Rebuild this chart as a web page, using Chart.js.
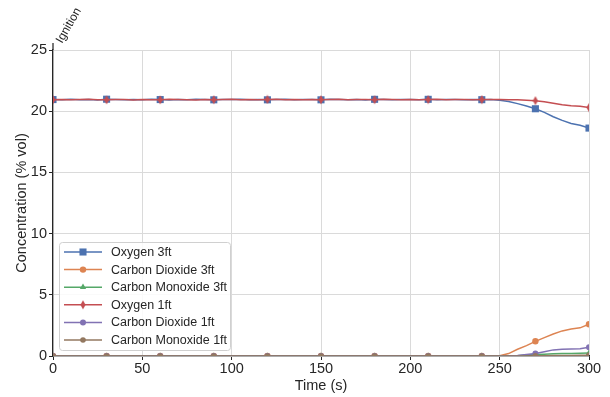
<!DOCTYPE html>
<html lang="en">
<head>
<meta charset="UTF-8">
<title>Gas concentration after ignition</title>
<script src="https://cdn.jsdelivr.net/npm/chart.js"></script>
<style>
    html, body { margin: 0; padding: 0; background: #fff; }
    #wrap { width: 610px; height: 397px; }
</style>
</head>
<body>
<div id="wrap"><canvas id="gasChart" width="610" height="397"></canvas></div>
<script>
// sample times (s), one reading every 5 s
var times = [0,5,10,15,20,25,30,35,40,45,50,55,60,65,70,75,80,85,90,95,
             100,105,110,115,120,125,130,135,140,145,150,155,160,165,170,175,180,185,190,195,
             200,205,210,215,220,225,230,235,240,245,250,255,260,265,270,275,280,285,290,295,300];

var oxygen3ft = [20.95,20.93,20.97,20.94,20.96,20.92,20.98,20.95,20.93,20.96,
                 20.94,20.97,20.95,20.92,20.96,20.94,20.98,20.95,20.93,20.96,
                 20.95,20.97,20.94,20.96,20.93,20.95,20.98,20.94,20.96,20.95,
                 20.93,20.97,20.95,20.94,20.96,20.92,20.97,20.95,20.94,20.96,
                 20.95,20.93,20.97,20.94,20.96,20.95,20.93,20.96,20.94,20.95,
                 20.9,20.8,20.62,20.42,20.2,19.9,19.55,19.25,19.0,18.85,18.62];
var co2_3ft = [0,0,0,0,0,0,0,0,0,0, 0,0,0,0,0,0,0,0,0,0, 0,0,0,0,0,0,0,0,0,0,
               0,0,0,0,0,0,0,0,0,0, 0,0,0,0,0,0,0,0,0,0,
               0.02,0.2,0.55,0.85,1.2,1.5,1.8,2.05,2.2,2.3,2.6];
var co_3ft = [0,0,0,0,0,0,0,0,0,0, 0,0,0,0,0,0,0,0,0,0, 0,0,0,0,0,0,0,0,0,0,
              0,0,0,0,0,0,0,0,0,0, 0,0,0,0,0,0,0,0,0,0,
              0,0,0.03,0.08,0.12,0.15,0.18,0.2,0.2,0.22,0.25];
var oxygen1ft = [20.94,20.96,20.93,20.95,20.97,20.94,20.93,20.96,20.95,20.92,
                 20.96,20.94,20.93,20.97,20.95,20.94,20.92,20.96,20.94,20.95,
                 20.97,20.93,20.95,20.94,20.96,20.97,20.94,20.95,20.93,20.96,
                 20.94,20.95,20.97,20.93,20.95,20.96,20.94,20.97,20.95,20.93,
                 20.96,20.94,20.95,20.97,20.93,20.95,20.96,20.94,20.95,20.96,
                 20.95,20.94,20.93,20.9,20.86,20.78,20.65,20.52,20.45,20.4,20.3];
var co2_1ft = [0,0,0,0,0,0,0,0,0,0, 0,0,0,0,0,0,0,0,0,0, 0,0,0,0,0,0,0,0,0,0,
               0,0,0,0,0,0,0,0,0,0, 0,0,0,0,0,0,0,0,0,0,
               0,0,0.05,0.12,0.2,0.35,0.5,0.55,0.57,0.6,0.72];
var co_1ft = [0,0,0,0,0,0,0,0,0,0, 0,0,0,0,0,0,0,0,0,0, 0,0,0,0,0,0,0,0,0,0,
              0,0,0,0,0,0,0,0,0,0, 0,0,0,0,0,0,0,0,0,0,
              0,0,0,0,0.02,0.03,0.04,0.05,0.05,0.06,0.07];

var seriesNames = ['Oxygen 3ft', 'Carbon Dioxide 3ft', 'Carbon Monoxide 3ft',
                   'Oxygen 1ft', 'Carbon Dioxide 1ft', 'Carbon Monoxide 1ft'];
var seriesValues = [oxygen3ft, co2_3ft, co_3ft, oxygen1ft, co2_1ft, co_1ft];
var seriesColors = ['#4C72B0', '#DD8452', '#55A868', '#C44E52', '#8172B3', '#937860'];

var xTicks = [0, 50, 100, 150, 200, 250, 300];
var yTicks = [0, 5, 10, 15, 20, 25];

var FONT = "'Liberation Sans', Arial, sans-serif";

// thin diamond marker like matplotlib 'd'
function thinDiamond(color) {
    var c = document.createElement('canvas');
    c.width = 6; c.height = 10;
    var g = c.getContext('2d');
    g.fillStyle = color;
    g.beginPath();
    g.moveTo(3, 0.5); g.lineTo(5.6, 5); g.lineTo(3, 9.5); g.lineTo(0.4, 5);
    g.closePath();
    g.fill();
    return c;
}

var markerStyles = ['rect', 'circle', 'triangle', thinDiamond('#C44E52'), 'circle', 'circle'];
var markerSizes = [5, 3.2, 3.6, 5, 3, 2.8];

var datasets = seriesNames.map(function (name, i) {
    return {
        label: name,
        data: times.map(function (t, j) { return { x: t, y: seriesValues[i][j] }; }),
        borderColor: seriesColors[i],
        backgroundColor: seriesColors[i],
        borderWidth: 1.5,
        pointStyle: markerStyles[i],
        pointBorderWidth: 0,
        pointRadius: function (ctx) { return times[ctx.dataIndex] % 30 === 0 ? markerSizes[i] : 0; },
        pointHoverRadius: 0,
        tension: 0,
        order: 6 - i
    };
});

// legend with line + marker, and the "Ignition" note
var extras = {
    id: 'extras',
    afterDraw: function (chart) {
        var ctx = chart.ctx;
        var area = chart.chartArea;
        ctx.save();

        // short ignition line above the axes
        ctx.strokeStyle = '#262626';
        ctx.lineWidth = 1.25;
        ctx.beginPath();
        ctx.moveTo(area.left, area.top - 7);
        ctx.lineTo(area.left, area.top);
        ctx.stroke();

        ctx.fillStyle = '#262626';
        ctx.font = '12px ' + FONT;
        ctx.translate(area.left + 9, area.top - 6);
        ctx.rotate(-Math.PI / 3);
        ctx.textAlign = 'left';
        ctx.textBaseline = 'alphabetic';
        ctx.fillText('Ignition', 0, 0);
        ctx.restore();

        // legend box
        ctx.save();
        var bx = 59.5, by = 242.5, bw = 171, bh = 108;
        ctx.fillStyle = 'rgba(255,255,255,0.85)';
        ctx.strokeStyle = '#d0d0d0';
        ctx.lineWidth = 1;
        ctx.beginPath();
        ctx.roundRect(bx, by, bw, bh, 3);
        ctx.fill();
        ctx.stroke();

        ctx.font = '12.5px ' + FONT;
        ctx.textBaseline = 'middle';
        chart.data.datasets.forEach(function (ds, i) {
            var y = 252 + i * 17.6;
            ctx.strokeStyle = ds.borderColor;
            ctx.lineWidth = 1.5;
            ctx.beginPath();
            ctx.moveTo(64, y);
            ctx.lineTo(102, y);
            ctx.stroke();
            ctx.fillStyle = ds.borderColor;
            Chart.helpers.drawPoint(ctx, {
                pointStyle: markerStyles[i],
                radius: markerSizes[i],
                rotation: 0,
                borderWidth: 0
            }, 83, y);
            ctx.fillStyle = '#262626';
            ctx.fillText(ds.label, 111, y + 0.5);
        });
        ctx.restore();
    }
};

var chart = new Chart(document.getElementById('gasChart'), {
    type: 'line',
    data: { datasets: datasets },
    options: {
        responsive: false,
        animation: false,
        events: [],
        layout: { padding: { top: 50, right: 21, left: 0, bottom: 0 } },
        plugins: { legend: { display: false }, tooltip: { enabled: false } },
        scales: {
            x: {
                type: 'linear',
                min: 0, max: 300,
                afterBuildTicks: function (s) { s.ticks = xTicks.map(function (v) { return { value: v }; }); },
                afterFit: function (s) { s.height = 41; },
                grid: { color: '#dadada', lineWidth: 1, tickLength: 4, tickColor: '#262626' },
                border: { display: true, color: '#262626', width: 1.25 },
                ticks: { color: '#262626', font: { family: FONT, size: 14.5 }, padding: 0, maxRotation: 0 },
                title: { display: true, text: 'Time (s)', color: '#262626',
                         font: { family: FONT, size: 14.5 }, padding: { top: 0, bottom: 2 } }
            },
            y: {
                min: 0, max: 25,
                afterBuildTicks: function (s) { s.ticks = yTicks.map(function (v) { return { value: v }; }); },
                afterFit: function (s) { s.width = 53; },
                grid: { color: '#dadada', lineWidth: 1, tickLength: 4, tickColor: '#262626' },
                border: { display: true, color: '#262626', width: 1.25 },
                ticks: { color: '#262626', font: { family: FONT, size: 14.5 }, padding: 2 },
                title: { display: true, text: 'Concentration (% vol)', color: '#262626',
                         font: { family: FONT, size: 14.5 }, padding: { top: 13, bottom: 0 } }
            }
        }
    },
    plugins: [extras]
});
</script>
</body>
</html>
